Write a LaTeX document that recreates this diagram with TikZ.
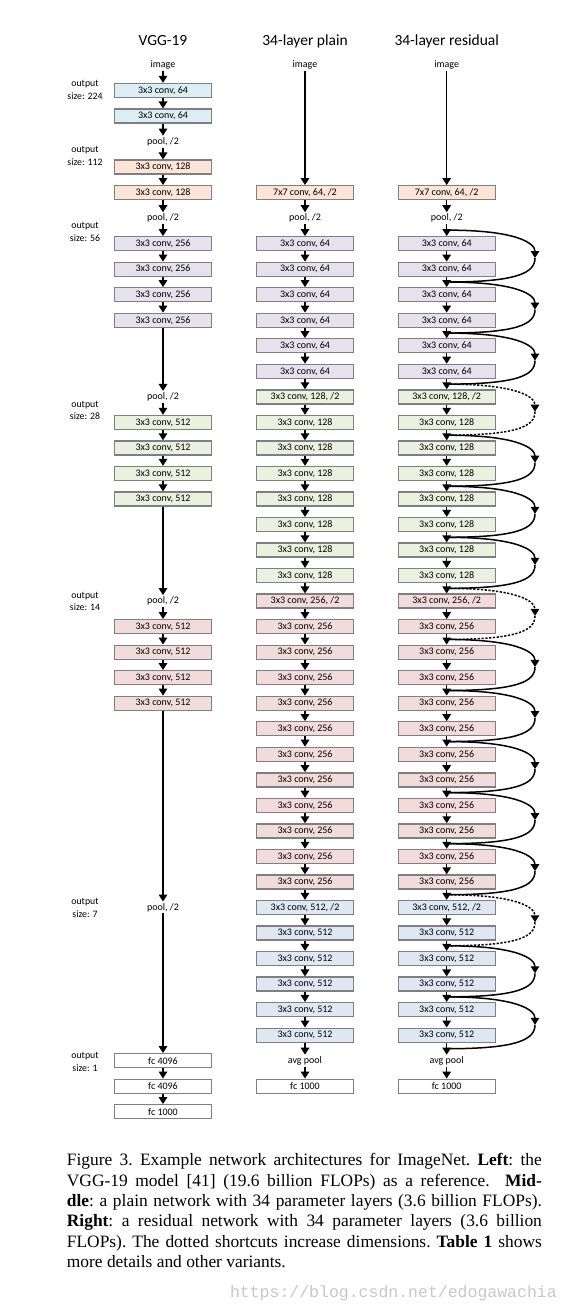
\documentclass[tikz,border=0pt]{standalone}
\usepackage{fontspec}
\setmainfont{Carlito}
\newfontfamily\capfont{Liberation Serif}
\newfontfamily\wmfont{Liberation Mono}
\usetikzlibrary{arrows.meta,calc}
\definecolor{s224}{RGB}{219,238,244}
\definecolor{s112}{RGB}{252,228,214}
\definecolor{s56}{RGB}{229,225,237}
\definecolor{s28}{RGB}{235,241,222}
\definecolor{s14}{RGB}{242,220,219}
\definecolor{s7}{RGB}{222,231,242}
\definecolor{edge}{RGB}{127,127,127}
\definecolor{wm}{RGB}{200,200,200}

\begin{document}
\begin{tikzpicture}[x=1pt,y=-1pt,
        conv/.style={draw=edge,line width=1.3pt,minimum width=97pt,minimum height=14pt,inner sep=0pt,font=\fontsize{10}{11}\selectfont},
        lbl/.style={inner sep=1.5pt,font=\fontsize{10}{11}\selectfont},
        osize/.style={align=center,inner sep=0pt,font=\fontsize{9.8}{12.6}\selectfont},
        colhead/.style={anchor=base,inner sep=0pt,font=\fontsize{15.5}{18}\selectfont},
        arr/.style={line width=1.5pt,-{Triangle[length=7pt,width=8.5pt]}},
        sc/.style={line width=1.5pt},
        dots/.style={dash pattern=on 2.2pt off 1.6pt}]
        \fill[white] (0,0) rectangle (572,1312);
        \useasboundingbox (0,0) rectangle (572,1312);

        \node[colhead] (tv) at (163,45.5) {VGG-19};
        \node[colhead] (tp) at (305,45.5) {34-layer plain};
        \node[colhead] (tr) at (446.7,45.5) {34-layer residual};

        \node[osize] (o224) at (85,90) {output\\size: 224};
        \node[osize] (o112) at (85,156) {output\\size: 112};
        \node[osize] (o56) at (85,232) {output\\size: 56};
        \node[osize] (o28) at (85,410.5) {output\\size: 28};
        \node[osize] (o14) at (85,601.5) {output\\size: 14};
        \node[osize] (o7) at (85,908) {output\\size: 7};
        \node[osize] (o1) at (85,1062) {output\\size: 1};

        \node[lbl] (v0) at (163,65) {image};
        \node[conv,fill=s224] (v1) at (163,90.5) {3x3 conv, 64};
        \node[conv,fill=s224] (v2) at (163,116.1) {3x3 conv, 64};
        \node[lbl] (v3) at (163,141.6) {pool, /2};
        \node[conv,fill=s112] (v4) at (163,167.1) {3x3 conv, 128};
        \node[conv,fill=s112] (v5) at (163,192.7) {3x3 conv, 128};
        \node[lbl] (v6) at (163,218.2) {pool, /2};
        \foreach \k in {7,...,10} \node[conv,fill=s56] (v\k) at (163,{65+25.53*\k}) {3x3 conv, 256};
        \node[lbl] (v13) at (163,396.9) {pool, /2};
        \foreach \k in {14,...,17} \node[conv,fill=s28] (v\k) at (163,{65+25.53*\k}) {3x3 conv, 512};
        \node[lbl] (v21) at (163,601.1) {pool, /2};
        \foreach \k in {22,...,25} \node[conv,fill=s14] (v\k) at (163,{65+25.53*\k}) {3x3 conv, 512};
        \node[lbl] (v33) at (163,907.5) {pool, /2};
        \node[conv,fill=white] (v39) at (163,1060.7) {fc 4096};
        \node[conv,fill=white] (v40) at (163,1086.2) {fc 4096};
        \node[conv,fill=white] (v41) at (163,1111.7) {fc 1000};
        \foreach \a/\b in {0/1,1/2,2/3,3/4,4/5,5/6,6/7,7/8,8/9,9/10,10/13,13/14,14/15,15/16,16/17,17/21,21/22,22/23,23/24,24/25,25/33,33/39,39/40,40/41}
            \draw[arr] (v\a) -- (v\b);

        \foreach \col/\xc in {p/305,r/446.7}{
            \node[lbl] (\col0) at (\xc,65) {image};
            \node[conv,fill=s112] (\col5) at (\xc,192.7) {7x7 conv, 64, /2};
            \node[lbl] (\col6) at (\xc,218.2) {pool, /2};
            \foreach \k in {7,...,12} \node[conv,fill=s56] (\col\k) at (\xc,{65+25.53*\k}) {3x3 conv, 64};
            \node[conv,fill=s28] (\col13) at (\xc,396.9) {3x3 conv, 128, /2};
            \foreach \k in {14,...,20} \node[conv,fill=s28] (\col\k) at (\xc,{65+25.53*\k}) {3x3 conv, 128};
            \node[conv,fill=s14] (\col21) at (\xc,601.1) {3x3 conv, 256, /2};
            \foreach \k in {22,...,32} \node[conv,fill=s14] (\col\k) at (\xc,{65+25.53*\k}) {3x3 conv, 256};
            \node[conv,fill=s7] (\col33) at (\xc,907.5) {3x3 conv, 512, /2};
            \foreach \k in {34,...,38} \node[conv,fill=s7] (\col\k) at (\xc,{65+25.53*\k}) {3x3 conv, 512};
            \node[lbl] (\col39) at (\xc,1060.7) {avg pool};
            \node[conv,fill=white] (\col40) at (\xc,1086.2) {fc 1000};
            \draw[arr] (\col0) -- (\col5);
            \foreach \k [remember=\k as \j (initially 5)] in {6,...,40} \draw[arr] (\col\j) -- (\col\k);
        }

        \foreach \a/\b/\ls in {7/8/solid,9/10/solid,11/12/solid,13/14/dots,15/16/solid,17/18/solid,19/20/solid,21/22/dots,23/24/solid,25/26/solid,27/28/solid,29/30/solid,31/32/solid,33/34/dots,35/36/solid,37/38/solid}{
            \pgfmathtruncatemacro\ua{\a-1}
            \pgfmathtruncatemacro\ub{\b+1}
            \coordinate (s\a) at ($(r\ua.south)!.5!(r\a.north)$);
            \coordinate (e\a) at ($(r\b.south)!.5!(r\ub.north)$);
            \coordinate (m\a) at ($(s\a)!.5!(e\a)+(88.3,2)$);
            \draw[sc,\ls,-{Triangle[length=7pt,width=8.5pt]}] (s\a) .. controls +(70,0) and +(0,-15) .. (m\a);
            \draw[sc,\ls] (m\a) .. controls +(0,15) and +(70,0) .. (e\a);
        }

        \node[anchor=north west,inner sep=0pt,text width=475pt,align=justify,font=\capfont\fontsize{17.4}{20.3}\selectfont\frenchspacing] (cap) at (66.7,1153.5)
            {Figure 3. Example network architectures for ImageNet. \textbf{Left}: the\linebreak
            VGG-19 model [41] (19.6 billion FLOPs) as a reference.\ \ \textbf{Mid-}\linebreak
            \textbf{dle}: a plain network with 34 parameter layers (3.6 billion FLOPs).\linebreak
            \textbf{Right}: a residual network with 34 parameter layers (3.6 billion\linebreak
            FLOPs). The dotted shortcuts increase dimensions. \textbf{Table 1} shows\linebreak
            more details and other variants.};
        \node[anchor=east,inner sep=0pt,text=wm,font=\wmfont\fontsize{16.5}{18}\selectfont] (wmk) at (557,1293) {https://blog.csdn.net/edogawachia};
    \end{tikzpicture}
\end{document}
